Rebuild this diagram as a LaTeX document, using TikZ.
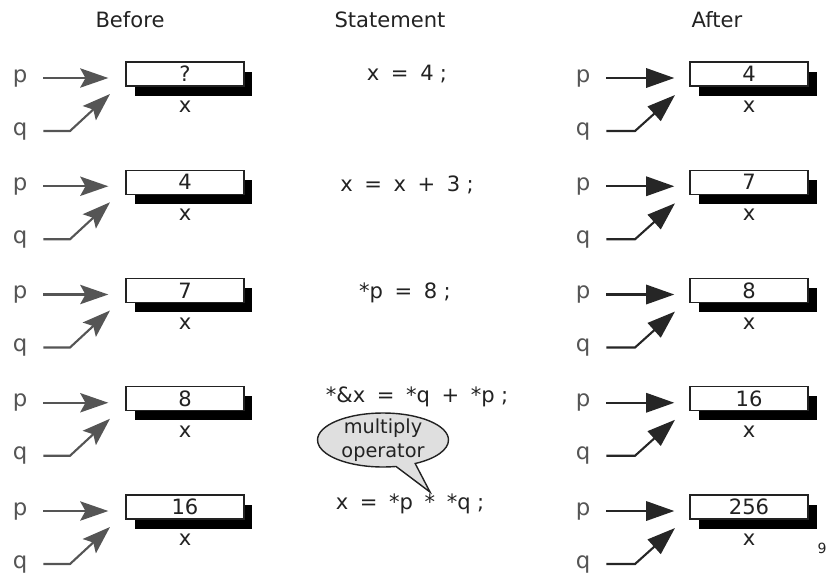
\documentclass[tikz,border=0pt]{standalone}
\usepackage{fontspec}
\setmainfont{DejaVu Sans}
\usepackage{xcolor}
\usetikzlibrary{arrows.meta,positioning,shadows,shapes.callouts}

\definecolor{ink}{HTML}{222222}
\definecolor{inkgray}{HTML}{555555}
\newcommand{\tokgap}{\hspace{0.55em}}
\newcommand{\semigap}{\hspace{0.3em}}

\begin{document}
\begin{tikzpicture}[
  x=0.02cm, y=-0.02cm,
  font=\fontsize{12}{14}\selectfont, text=ink,
  head/.style={font=\fontsize{12}{14}\selectfont},
  stmt/.style={inner sep=1pt},
  valbox/.style={draw=ink, fill=white, line width=0.8pt,
    minimum width=2.36cm, minimum height=0.48cm, inner sep=0pt,
    general shadow={fill=black, shadow xshift=0.17cm, shadow yshift=-0.19cm}},
  varname/.style={inner sep=0pt},
  ptrname/.style={text=inkgray, inner sep=0pt, font=\fontsize{13}{15}\selectfont},
  oldptr/.style={draw=inkgray, line width=1.2pt, shorten <=9pt,
    -{Stealth[length=16pt, width=11pt, inset=3pt]}},
  newptr/.style={draw=black!85, line width=1.2pt, shorten <=9pt,
    -{Triangle[length=16pt, width=11pt]}},
  bubble/.style={ellipse callout, draw=ink, fill=gray!25, line width=0.8pt,
    minimum width=2.62cm, minimum height=1.08cm, inner sep=0pt,
    callout pointer arc=18}
]
  \useasboundingbox (0,0) rectangle (830,576);

  \node[head] (hbefore) at (130,20) {Before};
  \node[head] (hstmt) at (390,20) {Statement};
  \node[head] (hafter) at (717,20) {After};

  \foreach \r/\old/\new in {0/?/4, 1/4/7, 2/7/8, 3/8/16, 4/16/256} {
    \pgfmathsetmacro{\y}{74+108.25*\r}
    % before
    \node[valbox] (bx\r) at (185,\y) {\old};
    \node[varname, below=8pt of bx\r] (bxl\r) {x};
    \node[ptrname] (bp\r) at (20,\y+4) {p};
    \node[ptrname] (bq\r) at (20,\y+57) {q};
    \coordinate (bk\r) at (70,\y+57);
    \coordinate (btip\r) at (110,\y+20);
    \draw[oldptr, shorten >=0.34cm] (bp\r) -- (bp\r -| bx\r.west);
    \draw[oldptr] (bq\r) -- (bk\r) -- (btip\r);
    % after
    \node[valbox] (ax\r) at (749,\y) {\new};
    \node[varname, below=8pt of ax\r] (axl\r) {x};
    \node[ptrname] (ap\r) at (583,\y+4) {p};
    \node[ptrname] (aq\r) at (583,\y+57) {q};
    \coordinate (ak\r) at (635,\y+57);
    \coordinate (atip\r) at (675,\y+21);
    \draw[newptr, shorten >=0.3cm] (ap\r) -- (ap\r -| ax\r.west);
    \draw[newptr] (aq\r) -- (ak\r) -- (atip\r);
  }

  \node[stmt] (s0) at (407,74) {x\tokgap=\tokgap4\semigap;};
  \node[stmt] (s1) at (407,185) {x\tokgap=\tokgap x\tokgap+\tokgap3\semigap;};
  \node[stmt] (s2) at (405,293) {*p\tokgap=\tokgap8\semigap;};
  \node[stmt] (s3) at (417,397) {*\&x\tokgap=\tokgap*q\tokgap+\tokgap*p\semigap;};
  \node[stmt] (s4) at (410,504) {x\tokgap=\tokgap*p\tokgap*\tokgap*q\semigap;};

  \coordinate (mul) at (430,492);
  \node[bubble, callout absolute pointer=(mul),
    label={[align=center, font=\fontsize{11}{14}\selectfont]center:multiply\\operator}]
    (mult) at (383,440) {};

  \node[font=\fontsize{8}{9}\selectfont] (pgno) at (822,548) {9};
\end{tikzpicture}
\end{document}
